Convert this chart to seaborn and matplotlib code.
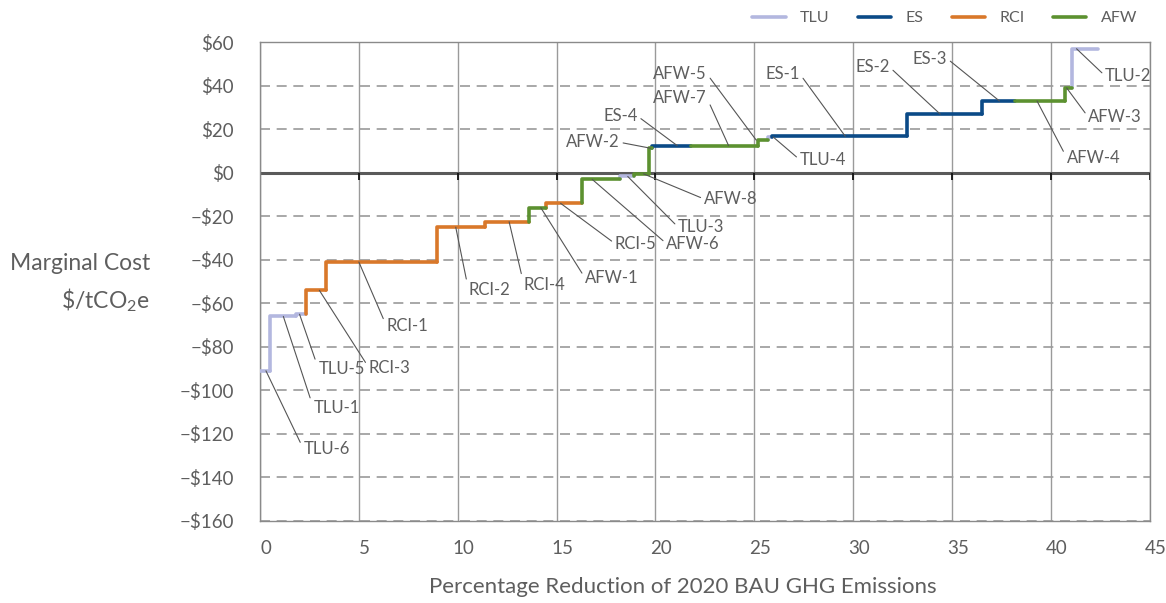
import matplotlib.pyplot as plt
import numpy as np
import pandas as pd
import seaborn as sns
from matplotlib.transforms import ScaledTranslation

# --- data: abatement measures in order along the curve ---
codes = ['TLU-6', 'TLU-1', 'TLU-5', 'RCI-3', 'RCI-1', 'RCI-2', 'RCI-4', 'AFW-1',
         'RCI-5', 'AFW-6', 'TLU-3', 'AFW-8', 'AFW-2', 'ES-4', 'AFW-7', 'AFW-5',
         'TLU-4', 'ES-1', 'ES-2', 'ES-3', 'AFW-4', 'AFW-3', 'TLU-2']
sectors = ['TLU', 'TLU', 'TLU', 'RCI', 'RCI', 'RCI', 'RCI', 'AFW',
           'RCI', 'AFW', 'TLU', 'AFW', 'AFW', 'ES', 'AFW', 'AFW',
           'TLU', 'ES', 'ES', 'ES', 'AFW', 'AFW', 'TLU']
# % reduction of 2020 BAU emissions contributed by each measure
widths = [0.5, 1.3, 0.53, 1.02, 5.6, 2.45, 2.2, 0.85,
          1.85, 1.9, 0.7, 0.8, 0.12, 1.98, 3.4, 0.5,
          0.2, 6.8, 3.8, 1.7, 2.5, 0.37, 1.33]
# marginal cost, $/tCO2e
costs = [-91, -66, -65, -54, -41, -25, -22.5, -16,
         -14, -3, -1.7, -0.5, 11.3, 12.5, 12.5, 15,
         16.5, 16.8, 27, 33, 33, 39, 57]

sector_order = ['TLU', 'ES', 'RCI', 'AFW']
sector_colors = ['#b3b7df', '#0b4a87', '#d9782a', '#5c9130']

yticks = list(range(-160, 61, 20))
xticks = list(range(0, 46, 5))

# callout labels: code, point on the step, label position, alignment
label_codes = ['TLU-6', 'TLU-1', 'TLU-5', 'RCI-3', 'RCI-1', 'RCI-2', 'RCI-4', 'AFW-1',
               'RCI-5', 'AFW-6', 'TLU-3', 'AFW-8', 'AFW-2', 'ES-4', 'AFW-7', 'AFW-5',
               'ES-1', 'TLU-4', 'ES-2', 'ES-3', 'AFW-4', 'AFW-3', 'TLU-2']
label_anchor_x = [0.3, 1.18, 2.0, 3.0, 5.0, 9.9, 12.6, 14.2,
                  15.2, 16.8, 18.6, 19.4, 19.75, 21.1, 23.7, 25.1,
                  29.6, 25.95, 34.4, 37.4, 39.3, 40.8, 41.3]
label_text_x = [2.2, 2.7, 2.95, 5.5, 6.4, 10.55, 13.35, 16.45,
                17.95, 20.55, 21.15, 22.45, 18.2, 19.1, 22.6, 22.6,
                27.3, 27.3, 31.85, 34.75, 40.8, 41.9, 42.75]
label_text_y = [-127, -108, -90, -89.5, -70.5, -54, -51.5, -48.5,
                -32.5, -32.5, -25, -12, 14, 26, 34.5, 45.5,
                45.5, 6, 48.5, 52.5, 7, 25.5, 44.5]
label_ha = ['left'] * 12 + ['right'] * 5 + ['left', 'right', 'right', 'left', 'left', 'left']

# build step-curve points (vertical riser belongs to the next measure)
ends = np.cumsum(widths)
starts = ends - np.array(widths)
rows = []
prev = None
for code, sec, x0, x1, y in zip(codes, sectors, starts, ends, costs):
    y0 = y if prev is None else prev
    rows += [(code, sec, x0, y0), (code, sec, x0, y), (code, sec, x1, y)]
    prev = y
df = pd.DataFrame(rows, columns=['code', 'sector', 'x', 'y'])

sns.set_style('white')
plt.rcParams['font.family'] = ['Lato', 'DejaVu Sans']
text_color = '#5e5e5e'

fig = plt.figure(figsize=(11.66, 6.03), dpi=100)
ax = fig.add_axes([0.223, 0.136, 0.763, 0.794])

# grid
ax.set_xlim(0, 45)
ax.set_ylim(-160, 60)
ax.set_xticks(xticks)
ax.set_yticks(yticks)
ax.grid(axis='x', color='#9a9a9a', linewidth=1.0, linestyle='-')
ax.grid(axis='y', color='#9a9a9a', linewidth=1.2, linestyle=(0, (6, 4)))
ax.set_axisbelow(True)
ax.axhline(0, color='#5a5a5a', linewidth=2.2, zorder=2)
ax.vlines(xticks[1:], -3.2, 0, color='#111111', linewidth=1.3, zorder=2)

sns.lineplot(data=df, x='x', y='y', hue='sector', units='code', estimator=None,
             sort=False, hue_order=sector_order, palette=sector_colors,
             linewidth=2.6, ax=ax, zorder=3)

cost_of = dict(zip(codes, costs))
for code, ax_x, tx, ty, ha in zip(label_codes, label_anchor_x, label_text_x, label_text_y, label_ha):
    ax.annotate(code, xy=(ax_x, cost_of[code]), xytext=(tx, ty), ha=ha, va='center',
                fontsize=12, color=text_color,
                arrowprops=dict(arrowstyle='-', color='#555555', lw=0.8,
                                shrinkA=0, shrinkB=0,
                                relpos=(0, 0.5) if ha == 'left' else (1, 0.5)))

for sp in ax.spines.values():
    sp.set_color('#8a8a8a')
    sp.set_linewidth(1.0)

ax.set_yticklabels([f'${v}' if v >= 0 else f'\u2212${-v}' for v in yticks])
ax.tick_params(axis='y', length=0, pad=19, labelsize=13.5, labelcolor=text_color)
ax.tick_params(axis='x', length=0, pad=14, labelsize=13.5, labelcolor=text_color)
for lbl in ax.get_xticklabels():
    lbl.set_transform(lbl.get_transform() + ScaledTranslation(6 / 100, 0, fig.dpi_scale_trans))

ax.set_xlabel('Percentage Reduction of 2020 BAU GHG Emissions', fontsize=16,
              color=text_color)
ax.xaxis.set_label_coords(0.475, -0.118)
ax.set_ylabel('')
fig.text(150 / 1166, 1 - 264 / 603, 'Marginal Cost', ha='right', va='center',
         fontsize=16.5, color=text_color)
fig.text(150 / 1166, 1 - 300 / 603, r'\$/tCO$_{\mathregular{2}}$e', ha='right', va='center',
         fontsize=16.5, color=text_color)

sns.move_legend(ax, 'lower right', bbox_to_anchor=(1.002, 1.005), ncol=4, frameon=False,
                title=None, fontsize=11.5, handlelength=2.1, handletextpad=0.9,
                columnspacing=1.75, labelcolor=text_color)

fig.savefig('out.png', dpi=100)
